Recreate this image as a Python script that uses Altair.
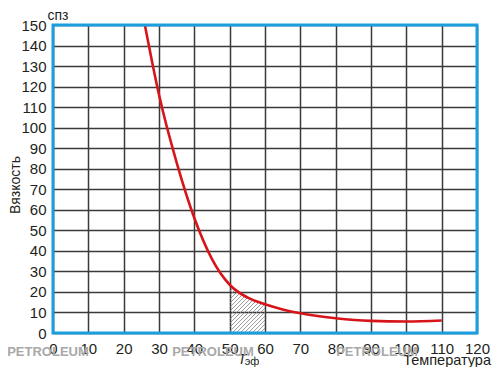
import altair as alt
import numpy as np
import pandas as pd

# curve values
temp = [26, 30, 35, 40, 45, 50, 55, 60, 65, 70, 80, 90, 100, 110]
visc = [150, 116, 83, 56, 36, 23.5, 17.3, 14, 11.5, 9.6, 7.2, 5.9, 5.6, 6.1]
hatch_from, hatch_to = 50, 60
x_ticks = list(range(0, 121, 10))
y_ticks = list(range(0, 151, 10))

W, H = 424, 308
curve = pd.DataFrame({"t": temp, "v": visc})

# hatch segments under the curve between hatch_from and hatch_to (45 deg on screen)
k = (W / 120) / (H / 150)
xs = np.linspace(hatch_from, hatch_to, 2001)
cv = np.interp(xs, temp, visc)
segs = []
x0 = hatch_from - 30 / k
step = 4 / (W / 120)
while x0 < hatch_to:
    ly = k * (xs - x0)
    ok = (xs >= x0) & (ly <= cv) & (ly >= 0)
    if ok.sum() > 1:
        xa, xb = xs[ok][0], xs[ok][-1]
        segs.append({"x": xa, "y": k * (xa - x0), "x2": xb, "y2": k * (xb - x0)})
    x0 += step
hatch = pd.DataFrame(segs)

xscale = alt.Scale(domain=[0, 120], nice=False)
yscale = alt.Scale(domain=[0, 150], nice=False)

axis_common = dict(
    labelFont="Liberation Sans", labelFontSize=15, labelColor="#231f20",
    labelFlush=False, labelOverlap=False,
    tickSize=0, domain=False, grid=True, gridColor="#3a3a3a", gridWidth=1.5,
    gridOpacity=1, title=None,
)
x_axis = alt.Axis(values=x_ticks, labelPadding=8, **axis_common)
y_axis = alt.Axis(values=y_ticks, labelPadding=7, **axis_common)

hatch_layer = alt.Chart(hatch).mark_rule(color="#808080", strokeWidth=0.8).encode(
    x=alt.X("x:Q", scale=xscale, axis=x_axis),
    y=alt.Y("y:Q", scale=yscale, axis=y_axis),
    x2="x2:Q", y2="y2:Q",
)

line = alt.Chart(curve).mark_line(color="#d7141a", strokeWidth=2.6, interpolate="monotone", clip=True).encode(
    x=alt.X("t:Q", scale=xscale, axis=x_axis), y=alt.Y("v:Q", scale=yscale, axis=y_axis)
)

frame = alt.Chart(pd.DataFrame({"a": [0]})).mark_rect(
    fill=None, fillOpacity=0, stroke="#1a9ee0", strokeWidth=3
).encode(
    x=alt.datum(0, scale=xscale, axis=x_axis), x2=alt.datum(120),
    y=alt.datum(0, scale=yscale, axis=y_axis), y2=alt.datum(150),
)

one = pd.DataFrame({"a": [0]})


def txt(s, x, y, **kw):
    return alt.Chart(one).mark_text(text=s, font="Liberation Sans", **kw).encode(
        x=alt.value(x), y=alt.value(y)
    )


texts = [
    txt("спз", 5, -5, fontSize=14, baseline="alphabetic", color="#231f20"),
    txt("Вязкость", -37, 160, fontSize=14, angle=270, color="#231f20"),
    txt("Температура", 438, 336, fontSize=14.5, align="right", color="#231f20"),
    txt("T", 189, 335, fontSize=14, fontStyle="italic", color="#231f20"),
    txt("эф", 199, 337, fontSize=11, color="#231f20"),
    txt("PETROLEUM", -5, 327, fontSize=13, fontWeight="bold", color="#a8a8a8"),
    txt("PETROLEUM", 160, 327, fontSize=13, fontWeight="bold", color="#a8a8a8"),
    txt("PETROLEUM", 324, 327, fontSize=13, fontWeight="bold", color="#a8a8a8"),
]

chart = alt.layer(hatch_layer, line, frame, *texts).properties(
    width=W, height=H,
    autosize=alt.AutoSizeParams(type="none"),
    padding={"left": 45, "top": 17, "right": 15, "bottom": 34},
    background="white",
).configure_view(stroke=None)

chart.save("out.html", embed_options={"renderer": "svg", "actions": False})
